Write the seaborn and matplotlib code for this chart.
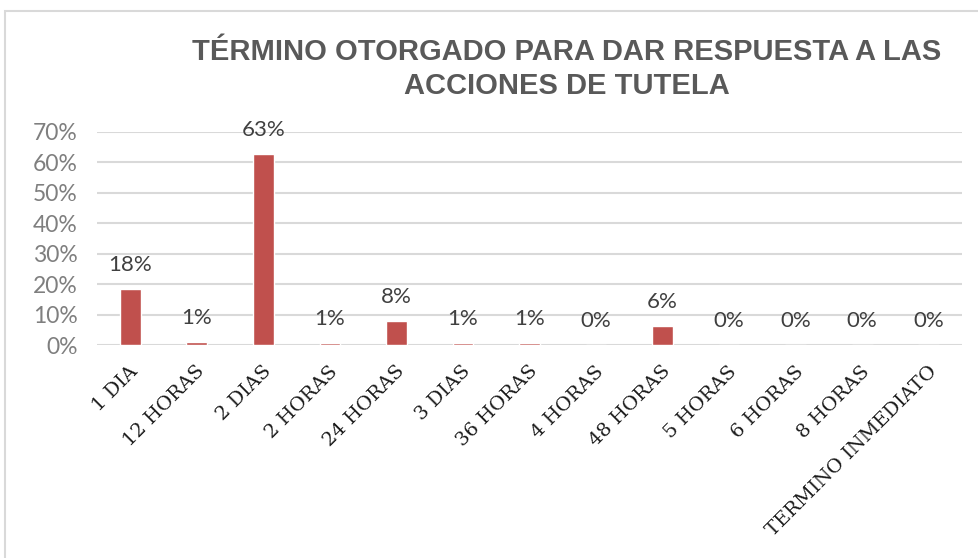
import matplotlib
matplotlib.use("Agg")
import matplotlib.pyplot as plt
import matplotlib.transforms as mtransforms
from matplotlib.patches import Rectangle
import seaborn as sns
import pandas as pd

# Data
categories = ["1 DIA", "12 HORAS", "2 DIAS", "2 HORAS", "24 HORAS", "3 DIAS",
              "36 HORAS", "4 HORAS", "48 HORAS", "5 HORAS", "6 HORAS", "8 HORAS",
              "TERMINO INMEDIATO"]
shares = [0.184, 0.010, 0.629, 0.006, 0.078, 0.006,
          0.006, 0.000, 0.064, 0.000, 0.000, 0.000, 0.000]
value_labels = ["18%", "1%", "63%", "1%", "8%", "1%", "1%", "0%", "6%",
                "0%", "0%", "0%", "0%"]
y_ticks = [0.0, 0.1, 0.2, 0.3, 0.4, 0.5, 0.6, 0.7]

title = "TÉRMINO OTORGADO PARA DAR RESPUESTA A LAS\nACCIONES DE TUTELA"

df = pd.DataFrame({"categoria": categories, "porcentaje": shares})

sns.set_style("white")
fig = plt.figure(figsize=(9.79, 5.58), dpi=100)
ax = fig.add_axes([97 / 979, 1 - 345 / 558, (962 - 97) / 979, (345 - 132) / 558])

sns.barplot(data=df, x="categoria", y="porcentaje", color="#C0504D",
            width=0.31, saturation=1, ax=ax)

ax.set_ylim(0, 0.70)
ax.set_yticks(y_ticks)
ax.set_yticklabels([f"{t:.0%}" for t in y_ticks], fontfamily="Lato",
                   fontsize=16.5, color="#7F7F7F")
ax.yaxis.grid(True, color="#D9D9D9", linewidth=1.5)
ax.set_axisbelow(True)
for s in ax.spines.values():
    s.set_visible(False)
ax.tick_params(axis="both", length=0)
ax.tick_params(axis="y", pad=14)
ax.tick_params(axis="x", pad=17)
ax.set_xlabel("")
ax.set_ylabel("")

# rotated category labels, anchored at their right end like Excel
ax.set_xticks(range(len(categories)))
ax.set_xticklabels(categories, rotation=45, ha="right", va="center",
                   rotation_mode="anchor", fontfamily="DejaVu Serif",
                   fontsize=14, color="#1A1A1A")
shift = mtransforms.ScaledTranslation(5 / 100, 0, fig.dpi_scale_trans)
for lbl in ax.get_xticklabels():
    lbl.set_transform(lbl.get_transform() + shift)

ax.bar_label(ax.containers[0], labels=value_labels, padding=10,
             fontfamily="Lato", fontsize=16, color="#404040")

fig.text(567 / 979, 1 - 38 / 558, title, ha="center", va="top",
         fontfamily="Liberation Sans", fontweight="bold", fontsize=21,
         color="#595959", linespacing=1.25)

# light chart-area border
fig.patches.append(Rectangle((5 / 979, -0.05), 1.0, 1 - 11 / 558 + 0.05,
                             transform=fig.transFigure, fill=False,
                             edgecolor="#D9D9D9", linewidth=1.5))

fig.savefig("out.png", dpi=100)
